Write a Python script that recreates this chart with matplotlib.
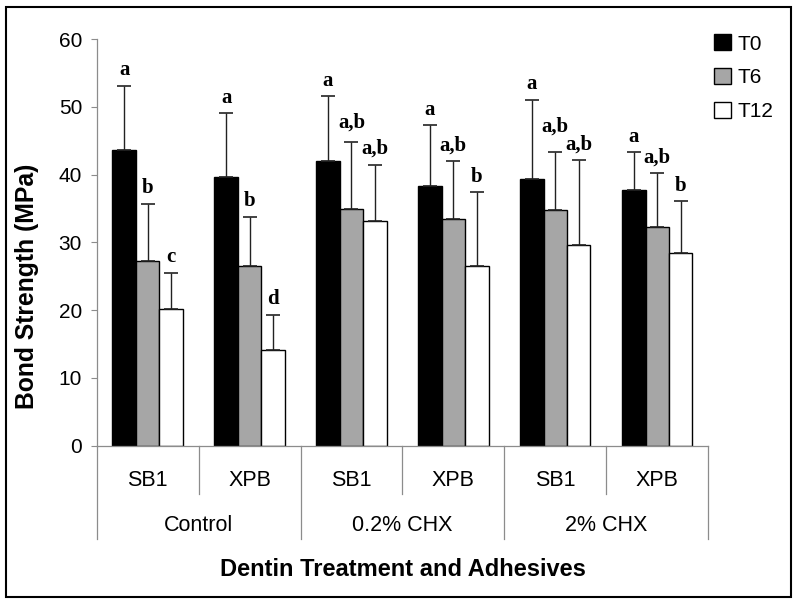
import matplotlib
matplotlib.use("Agg")
import matplotlib.pyplot as plt
from matplotlib.patches import Rectangle
import numpy as np

# ---- data ----
treatments = ["Control", "0.2% CHX", "2% CHX"]
adhesives = ["SB1", "XPB", "SB1", "XPB", "SB1", "XPB"]
series_names = ["T0", "T6", "T12"]
t0_mean = [43.7, 39.7, 42.0, 38.4, 39.3, 37.7]
t6_mean = [27.2, 26.5, 35.0, 33.4, 34.8, 32.3]
t12_mean = [20.2, 14.1, 33.2, 26.5, 29.6, 28.5]
t0_sd = [9.4, 9.4, 9.6, 8.9, 11.8, 5.6]
t6_sd = [8.5, 7.3, 9.8, 8.6, 8.6, 7.9]
t12_sd = [5.3, 5.2, 8.3, 10.9, 12.6, 7.6]
t0_letters = ["a", "a", "a", "a", "a", "a"]
t6_letters = ["b", "b", "a,b", "a,b", "a,b", "a,b"]
t12_letters = ["c", "d", "a,b", "b", "a,b", "b"]
y_ticks = [0, 10, 20, 30, 40, 50, 60]

means = [t0_mean, t6_mean, t12_mean]
sds = [t0_sd, t6_sd, t12_sd]
letters = [t0_letters, t6_letters, t12_letters]
colors = ["#000000", "#a6a6a6", "#ffffff"]

W, H = 800, 604
fig = plt.figure(figsize=(W / 100, H / 100), dpi=100)
ax = fig.add_axes([96.7 / W, 1 - 445.5 / H, (708.2 - 96.7) / W, (445.5 - 39.3) / H])

sans = "Liberation Sans"
serif = "Liberation Serif"
axis_gray = "#8c8c8c"

# labels lifted a little higher to avoid colliding with the neighbour's label
lifted = {(1, 4): 7, (1, 2): 3}

n = len(adhesives)
x = np.arange(n) + 0.5
bw = 0.23
offsets = [-bw, 0, bw]
for s in range(3):
    xs = x + offsets[s]
    ax.bar(xs, means[s], width=bw, color=colors[s], edgecolor="black",
           linewidth=1.0, label=series_names[s], zorder=2)
    ax.errorbar(xs, means[s], yerr=[np.zeros(n), sds[s]], fmt="none",
                ecolor="#222222", elinewidth=1.0, capsize=5, capthick=1.2, zorder=3)
    for i in range(n):
        ax.annotate(letters[s][i], (xs[i], means[s][i] + sds[s][i]),
                    xytext=(0, 4 + lifted.get((s, i), 0)), textcoords="offset points",
                    ha="center", va="bottom", fontfamily=serif,
                    fontweight="bold", fontsize=15)

ax.set_xlim(0, n)
ax.set_ylim(0, 60)
ax.set_yticks(y_ticks)
ax.set_yticklabels([str(v) for v in y_ticks], fontfamily=sans, fontsize=15)
ax.tick_params(axis="y", direction="out", length=4.5, width=0.8,
               color=axis_gray, pad=6)
ax.set_xticks([])
for sp in ["top", "right"]:
    ax.spines[sp].set_visible(False)
ax.spines["left"].set_color(axis_gray)
ax.spines["bottom"].set_color(axis_gray)
ax.spines["left"].set_linewidth(0.9)
ax.spines["bottom"].set_linewidth(0.9)

# multi-level category axis
tr = ax.get_xaxis_transform()
for i in range(n + 1):
    end = -0.230 if i % 2 == 0 else -0.119
    ax.plot([i, i], [0, end], transform=tr, color=axis_gray, lw=0.9,
            clip_on=False)
for i, lab in enumerate(adhesives):
    ax.text(x[i], -0.087, lab, transform=tr, ha="center", va="center",
            fontfamily=sans, fontsize=15.5)
for g, lab in enumerate(treatments):
    ax.text(2 * g + 1, -0.198, lab, transform=tr, ha="center", va="center",
            fontfamily=sans, fontsize=15.5)

fig.text((96.7 + 708.2) / 2 / W, 1 - 570 / H, "Dentin Treatment and Adhesives",
         ha="center", va="center", fontfamily=sans, fontweight="bold", fontsize=17)
fig.text(27 / W, 1 - 286 / H, "Bond Strength (MPa)", rotation=90,
         ha="center", va="center", fontfamily=sans, fontweight="bold", fontsize=17.8)

leg = fig.legend(loc="upper left", bbox_to_anchor=(706 / W, 1 - 26 / H),
                 frameon=False, prop={"family": sans, "size": 15},
                 handlelength=0.8, handleheight=0.8, handletextpad=0.3,
                 labelspacing=0.7, borderaxespad=0)

fig.patches.append(Rectangle((6 / W, 1 - 596.7 / H), (790.7 - 6) / W,
                             (596.7 - 7) / H, transform=fig.transFigure,
                             fill=False, edgecolor="black", linewidth=1.5))

fig.savefig("out.png", dpi=100)
